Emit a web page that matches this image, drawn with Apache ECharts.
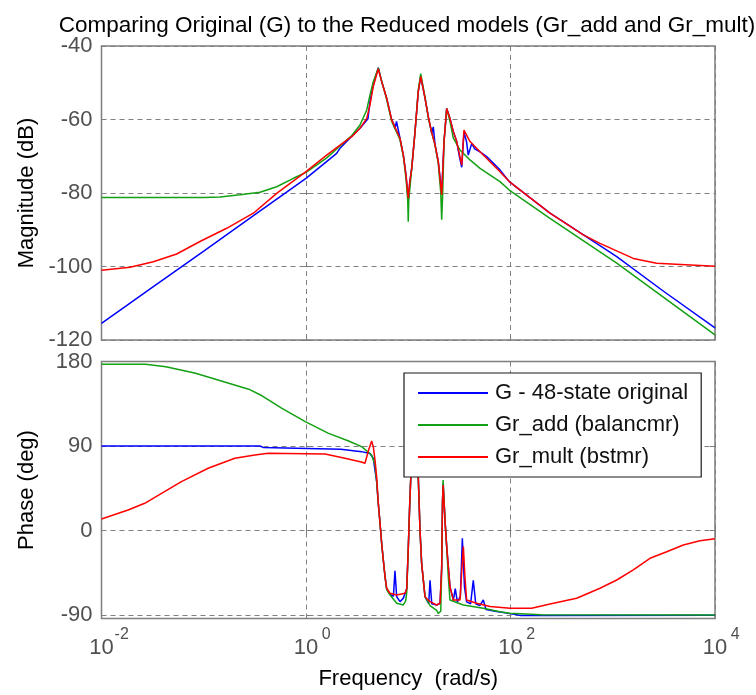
<!DOCTYPE html>
<html>
<head>
<meta charset="utf-8">
<script src="https://cdn.jsdelivr.net/npm/echarts@6/dist/echarts.min.js"></script>
<style>
html,body{margin:0;padding:0;background:#fff;}
#chart{width:756px;height:695px;}
</style>
</head>
<body>
<div id="chart"></div>
<script>
// ---- data: [log10(frequency in rad/s), value] ----
const titleText = 'Comparing Original (G) to the Reduced models (Gr_add and Gr_mult)';
const seriesNames = ['G - 48-state original', 'Gr_add (balancmr)', 'Gr_mult (bstmr)'];
const xTickExponents = [-2, 0, 2, 4];

// Magnitude (dB)
const magG = [[-2,-115.5],[-1.5,-105.6],[-1,-95.8],[-0.5,-85.9],[0,-76],[0.3,-69.2],[0.333,-67.8],[0.45,-64.5],[0.528,-62.4],[0.606,-59.8],[0.626,-55],[0.658,-50.5],[0.707,-45.9],[0.74,-49.7],[0.789,-54.2],[0.838,-60.1],[0.855,-61],[0.87,-62.5],[0.885,-60.5],[0.919,-65.1],[0.952,-69.7],[0.978,-75.1],[1.0,-82],[1.015,-77],[1.034,-73.3],[1.066,-63.4],[1.098,-52.4],[1.122,-48.3],[1.164,-54.2],[1.196,-59.2],[1.229,-63.8],[1.245,-62],[1.262,-66.9],[1.294,-71.5],[1.327,-80],[1.35,-66],[1.376,-57],[1.408,-59.7],[1.441,-63.3],[1.474,-66],[1.5,-70],[1.523,-73],[1.545,-63.5],[1.57,-66],[1.587,-69.7],[1.621,-66.5],[1.65,-68],[1.669,-68.5],[1.702,-68.8],[1.767,-70.1],[1.897,-73.7],[1.988,-76.9],[2.386,-85.5],[2.5,-87.5],[3.039,-97.3],[3.5,-106.8],[4,-116.7]];
const magAdd = [[-2,-81.2],[-1,-81.2],[-0.841,-81.1],[-0.645,-80.5],[-0.45,-79.8],[-0.287,-78.3],[-0.124,-76],[0,-74.4],[0.2,-70.5],[0.333,-67.2],[0.45,-64.3],[0.528,-61.5],[0.594,-57.4],[0.626,-53.3],[0.658,-49.7],[0.707,-46],[0.74,-49.5],[0.789,-54.5],[0.838,-60.5],[0.919,-65.5],[0.952,-70],[0.978,-76],[0.995,-82],[1.0,-87.8],[1.005,-82],[1.034,-73.3],[1.066,-63.4],[1.098,-52],[1.122,-47.5],[1.164,-54],[1.196,-59.5],[1.229,-63.5],[1.262,-67],[1.294,-72],[1.318,-80],[1.327,-87.3],[1.337,-80],[1.35,-66],[1.376,-57],[1.408,-60.5],[1.441,-65.1],[1.506,-68.3],[1.604,-71],[1.702,-73.3],[1.897,-76.9],[1.988,-79.2],[2.386,-86.9],[3.039,-99.1],[4,-118.6]];
const magMult = [[-2,-101],[-1.721,-100.2],[-1.493,-98.7],[-1.265,-96.6],[-1.037,-93.2],[-0.776,-89.6],[-0.515,-85.5],[-0.287,-80.1],[0,-74.2],[0.202,-69.7],[0.333,-67],[0.45,-64.6],[0.528,-62.4],[0.594,-59.7],[0.626,-56],[0.658,-51],[0.707,-46.2],[0.74,-49.7],[0.789,-54.2],[0.838,-60.1],[0.919,-65.1],[0.952,-69.7],[0.978,-75.1],[1.0,-81.4],[1.015,-77],[1.034,-73.3],[1.066,-63.4],[1.098,-52.4],[1.122,-48.3],[1.164,-54.2],[1.196,-59.2],[1.229,-63.5],[1.262,-66.9],[1.294,-71.5],[1.327,-80.5],[1.35,-66],[1.376,-57],[1.408,-59.7],[1.441,-63.3],[1.474,-66],[1.523,-72.4],[1.545,-62.9],[1.604,-66],[1.702,-68.8],[1.897,-74.2],[1.988,-76.9],[2.386,-85.5],[2.712,-91.4],[2.875,-93.7],[3.201,-97.8],[3.43,-99.1],[4,-99.9]];

// Phase (deg)
const phG = [[-2,90],[-0.45,90],[-0.42,88.5],[0.34,86.5],[0.544,84],[0.626,82],[0.658,77],[0.691,52],[0.707,29],[0.724,7.7],[0.74,-13.6],[0.756,-31.4],[0.773,-49.2],[0.789,-62],[0.822,-68],[0.855,-70],[0.87,-43],[0.887,-70.5],[0.92,-75.8],[0.952,-72],[0.968,-70],[0.985,-62],[1.0,-20],[1.015,30],[1.03,70],[1.05,89],[1.085,88],[1.098,57],[1.115,0],[1.131,-35],[1.164,-70.5],[1.2,-78],[1.213,-53],[1.23,-78],[1.278,-79.3],[1.311,-77.5],[1.327,-40],[1.335,30],[1.341,50],[1.36,10],[1.376,-17.2],[1.408,-59.7],[1.441,-74],[1.46,-62],[1.48,-76],[1.51,-70],[1.529,-8.3],[1.55,-60],[1.571,-76],[1.61,-78],[1.636,-53],[1.66,-78],[1.7,-80],[1.734,-74],[1.76,-84],[1.85,-86],[1.995,-88.5],[2.1,-90.4],[2.3,-90.4],[4,-90.2]];
const phAdd = [[-2,177],[-1.57,177],[-1.37,174.5],[-1.08,167.4],[-0.755,156.8],[-0.56,150.5],[-0.43,143.5],[-0.235,130],[-0.007,115.9],[0.221,103.5],[0.417,95.3],[0.544,89.3],[0.642,80.4],[0.675,70],[0.691,52],[0.707,29],[0.724,7.7],[0.74,-13.6],[0.756,-31.4],[0.773,-49.2],[0.789,-63],[0.822,-68.7],[0.887,-77.5],[0.952,-79.3],[0.975,-75],[0.985,-66],[1.0,-20],[1.015,30],[1.03,70],[1.05,89],[1.085,88],[1.098,57],[1.115,0],[1.131,-35],[1.164,-70.5],[1.213,-80],[1.278,-85],[1.294,-88.2],[1.318,-86],[1.327,-40],[1.335,30],[1.341,53.8],[1.36,10],[1.376,-17.2],[1.392,-50],[1.408,-74],[1.539,-79.3],[1.734,-82.8],[1.897,-86.4],[1.995,-88.2],[2.3,-89.7],[4,-89.9]];
const phMult = [[-2,12.3],[-1.74,21.8],[-1.577,29],[-1.413,39.6],[-1.218,52],[-0.957,66.3],[-0.696,76.9],[-0.5,80.4],[-0.37,82.2],[0.186,81.5],[0.381,76.9],[0.541,73],[0.577,71.6],[0.61,85],[0.642,95.3],[0.658,89.3],[0.675,75],[0.691,57.3],[0.707,29],[0.724,7.7],[0.74,-13.6],[0.756,-31.4],[0.773,-49.2],[0.789,-61.5],[0.822,-66.9],[0.887,-68.7],[0.968,-66.9],[0.985,-62],[1.0,-20],[1.015,30],[1.03,70],[1.05,89],[1.085,88],[1.098,57],[1.115,0],[1.131,-35],[1.164,-70.5],[1.213,-75.8],[1.278,-79.3],[1.311,-77.5],[1.327,-40],[1.335,30],[1.341,48.5],[1.36,10],[1.376,-17.2],[1.408,-59.7],[1.441,-74],[1.506,-74],[1.525,-40],[1.539,-17],[1.555,-50],[1.571,-74],[1.669,-77.5],[1.8,-81],[1.995,-82.8],[2.207,-82.8],[2.386,-78.3],[2.647,-72.2],[2.875,-61.5],[3.039,-52.7],[3.201,-42],[3.364,-29.6],[3.528,-22.6],[3.69,-15.4],[3.853,-10.9],[3.983,-9],[4,-8.8]];

// ---- styling ----
const FONT = '"Liberation Sans", Arial, sans-serif';
const colors = ['#0000ff', '#14a014', '#ff0000'];
const frameColor = '#7d7d7d';
const gridLineStyle = { color: '#808080', type: [5, 4], width: 1 };
const tickLabelColor = '#505050';

const L = 101.5, W = 613.5;
const magTop = 46, magH = 294;
const phTop = 361.5, phH = 257;
const phMin = -93.7, phMax = 180;

const chart = echarts.init(document.getElementById('chart'), null, { renderer: 'canvas' });

function tickOnly(extra) {
  return Object.assign({
    type: 'value',
    axisLine: { show: false },
    axisTick: { show: true, inside: true, length: 5, lineStyle: { color: frameColor } },
    axisLabel: { show: false },
    splitLine: { show: false }
  }, extra);
}

const xAxisBase = { type: 'value', min: -2, max: 4, interval: 2 };

const option = {
  animation: false,
  backgroundColor: '#fff',
  textStyle: { fontFamily: FONT },
  title: {
    text: titleText,
    left: 402, top: 9, textAlign: 'center',
    textStyle: { fontFamily: FONT, fontSize: 22.5, fontWeight: 'normal', color: '#000' }
  },
  legend: {
    orient: 'vertical', left: 404, top: 373, z: 20,
    padding: [9, 13, 9, 14],
    icon: 'rect',
    itemWidth: 70, itemHeight: 2, itemGap: 10,
    backgroundColor: '#fff', borderColor: '#1a1a1a', borderWidth: 1.2,
    textStyle: { fontFamily: FONT, fontSize: 22, color: '#111', padding: [0, 0, 0, 2] },
    data: seriesNames
  },
  grid: [
    { left: L, top: magTop, width: W, height: magH, show: true, borderColor: frameColor, borderWidth: 1.5, backgroundColor: 'transparent' },
    { left: L, top: phTop, width: W, height: phH, show: true, borderColor: frameColor, borderWidth: 1.5, backgroundColor: 'transparent' }
  ],
  xAxis: [
    Object.assign({}, xAxisBase, {
      gridIndex: 0, position: 'bottom',
      axisLine: { show: false },
      axisTick: { show: true, inside: true, length: 5, lineStyle: { color: frameColor } },
      axisLabel: { show: false },
      splitLine: { show: true, lineStyle: gridLineStyle }
    }),
    tickOnly(Object.assign({}, xAxisBase, { gridIndex: 0, position: 'top' })),
    Object.assign({}, xAxisBase, {
      gridIndex: 1, position: 'bottom',
      name: 'Frequency  (rad/s)', nameLocation: 'middle', nameGap: 49,
      nameTextStyle: { fontFamily: FONT, fontSize: 22, color: '#000', verticalAlign: 'top' },
      axisLine: { show: false },
      axisTick: { show: true, inside: true, length: 5, lineStyle: { color: frameColor } },
      axisLabel: {
        show: true, margin: 8,
        formatter: v => '{sp|}{b|10}{s|' + v + '}',
        rich: {
          sp: { width: 16 },
          b: { fontFamily: FONT, fontSize: 22, color: tickLabelColor, lineHeight: 32, verticalAlign: 'bottom' },
          s: { fontFamily: FONT, fontSize: 16, color: tickLabelColor, lineHeight: 14, width: 16, align: 'left', verticalAlign: 'top' }
        }
      },
      splitLine: { show: true, lineStyle: gridLineStyle }
    }),
    tickOnly(Object.assign({}, xAxisBase, { gridIndex: 1, position: 'top' }))
  ],
  yAxis: [
    {
      type: 'value', gridIndex: 0, position: 'left', min: -120, max: -40, interval: 20,
      name: 'Magnitude (dB)', nameLocation: 'middle', nameGap: 64,
      nameTextStyle: { fontFamily: FONT, fontSize: 22, color: '#000' },
      axisLine: { show: false },
      axisTick: { show: true, inside: true, length: 5, lineStyle: { color: frameColor } },
      axisLabel: { show: true, margin: 9, fontFamily: FONT, fontSize: 22, color: tickLabelColor },
      splitLine: { show: true, lineStyle: gridLineStyle }
    },
    tickOnly({ gridIndex: 0, position: 'right', min: -120, max: -40, interval: 20 }),
    {
      // label / grid axis for phase (inverted so ticks start at a multiple of 90)
      type: 'value', gridIndex: 1, position: 'left', inverse: true,
      min: -phMax, max: -phMin, interval: 90,
      name: 'Phase (deg)', nameLocation: 'middle', nameGap: 64,
      nameTextStyle: { fontFamily: FONT, fontSize: 22, color: '#000' },
      axisLine: { show: false },
      axisTick: { show: true, inside: true, length: 5, lineStyle: { color: frameColor } },
      axisLabel: {
        show: true, margin: 9, fontFamily: FONT, fontSize: 22, color: tickLabelColor,
        showMaxLabel: false,
        formatter: v => (Math.abs(v % 90) < 1e-6 ? String(-v === 0 ? 0 : -v) : '')
      },
      splitLine: { show: true, lineStyle: gridLineStyle }
    },
    {
      // data axis for phase
      type: 'value', gridIndex: 1, min: phMin, max: phMax, show: false,
      splitLine: { show: false }
    },
    tickOnly({ gridIndex: 1, position: 'right', inverse: true, min: -phMax, max: -phMin, interval: 90 })
  ],
  series: []
};

const magData = [magG, magAdd, magMult];
const phData = [phG, phAdd, phMult];
for (let i = 0; i < 3; i++) {
  option.series.push({
    name: seriesNames[i], type: 'line', xAxisIndex: 0, yAxisIndex: 0,
    data: magData[i], symbol: 'none', showSymbol: false, smooth: false,
    lineStyle: { color: colors[i], width: 1.5 }, itemStyle: { color: colors[i] },
    z: 2
  });
}
for (let i = 0; i < 3; i++) {
  option.series.push({
    name: seriesNames[i], type: 'line', xAxisIndex: 2, yAxisIndex: 3,
    data: phData[i], symbol: 'none', showSymbol: false, smooth: false,
    lineStyle: { color: colors[i], width: 1.5 }, itemStyle: { color: colors[i] },
    z: 2
  });
}

chart.setOption(option);
</script>
</body>
</html>
